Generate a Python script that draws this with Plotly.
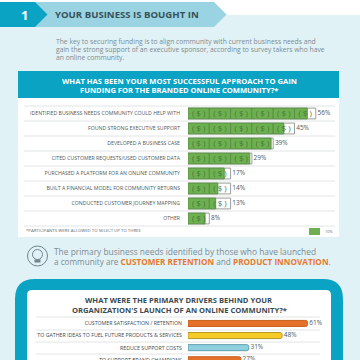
import math
import plotly.graph_objects as go

funding_labels = ["IDENTIFIED BUSINESS NEEDS COMMUNITY COULD HELP WITH", "FOUND STRONG EXECUTIVE SUPPORT",
                  "DEVELOPED A BUSINESS CASE", "CITED CUSTOMER REQUESTS/USED CUSTOMER DATA",
                  "PURCHASED A PLATFORM FOR AN ONLINE COMMUNITY", "BUILT A FINANCIAL MODEL FOR COMMUNITY RETURNS",
                  "CONDUCTED CUSTOMER JOURNEY MAPPING", "OTHER"]
funding_values = [56, 45, 39, 29, 17, 14, 13, 8]
bill_size = 10

driver_labels = ["CUSTOMER SATISFACTION / RETENTION", "TO GATHER IDEAS TO FUEL FUTURE PRODUCTS & SERVICES",
                 "REDUCE SUPPORT COSTS", "TO SUPPORT BRAND CHAMPIONS"]
driver_values = [61, 48, 31, 27]
driver_colors = ["#E5702A", "#F6CB25", "#8FD0DF", "#E5702A"]
driver_lines = ["#C9601F", "#B79A2A", "#5E9FB0", "#C9601F"]

FONT = "Open Sans"
BG = "#E1F2F7"
TEAL = "#0AA3C4"
W = H = 360


def px(x):
    return x / W


def py(y):
    return 1 - y / H


def poly(points, fill, line=None):
    d = "M" + " L".join(f"{px(x):.5f},{py(y):.5f}" for x, y in points) + " Z"
    return dict(type="path", xref="paper", yref="paper", path=d, fillcolor=fill,
                line=dict(width=0 if line is None else 1, color=line or fill), layer="below")


def rect(x0, y0, x1, y1, fill):
    return dict(type="rect", xref="paper", yref="paper", x0=px(x0), x1=px(x1), y0=py(y1), y1=py(y0),
                fillcolor=fill, line=dict(width=0), layer="below")


def rounded(x0, y0, x1, y1, r, fill):
    def P(x, y):
        return f"{px(x):.5f},{py(y):.5f}"
    d = (f"M{P(x0 + r, y0)} L{P(x1 - r, y0)} Q{P(x1, y0)} {P(x1, y0 + r)} L{P(x1, y1 - r)} "
         f"Q{P(x1, y1)} {P(x1 - r, y1)} L{P(x0 + r, y1)} Q{P(x0, y1)} {P(x0, y1 - r)} "
         f"L{P(x0, y0 + r)} Q{P(x0, y0)} {P(x0 + r, y0)} Z")
    return dict(type="path", xref="paper", yref="paper", path=d, fillcolor=fill, line=dict(width=0), layer="below")


def hline(x0, x1, y, color="#E2E4E4", width=1):
    return dict(type="line", xref="paper", yref="paper", x0=px(x0), x1=px(x1), y0=py(y), y1=py(y),
                line=dict(color=color, width=width), layer="below")


def note(x, y, text, size, color, anchor="left", bold=False):
    return dict(x=px(x), y=py(y), xref="paper", yref="paper", text=f"<b>{text}</b>" if bold else text,
                showarrow=False, xanchor=anchor, yanchor="middle", font=dict(family=FONT, size=size, color=color),
                borderpad=0, borderwidth=0)


shapes = [
    rect(0, 15, 360, 360, BG),
    rect(18, 71, 339, 98, TEAL),
    rect(18, 98, 339, 237, "#FFFFFF"),
    poly([(0, 2), (214, 2), (226.5, 14.5), (214, 27), (0, 27)], "#9AD4E2"),
    poly([(0, 2), (35, 2), (47.5, 14.5), (35, 27), (0, 27)], TEAL),
    rounded(15, 279, 343, 420, 20, TEAL),
    rounded(27, 290, 331, 420, 5, "#FFFFFF"),
    dict(type="circle", xref="paper", yref="paper", x0=px(27.5), x1=px(47.5), y0=py(266), y1=py(246),
         line=dict(color="#6F858C", width=1), fillcolor=BG, layer="below"),
    dict(type="circle", xref="paper", yref="paper", x0=px(32.5), x1=px(42.5), y0=py(259.5), y1=py(249.5),
         line=dict(color="#6F858C", width=1), fillcolor=BG, layer="below"),
    rect(34.5, 259.5, 40.5, 262.5, "#6F858C"),
    rect(309, 228, 320, 235, "#6FAE53"),
]
for y in [106, 121, 136, 151, 166, 181, 196, 211, 226]:
    shapes.append(hline(24, 335, y))
for y in [317, 330, 342, 354]:
    shapes.append(hline(36, 320, y))

GRAY = "#7B8B91"
ORANGE = "#E8792F"
annotations = [
    note(24.5, 15, "1", 13, "#FFFFFF", "center", True),
    note(55, 15, "YOUR BUSINESS IS BOUGHT IN", 9.6, "#37505A", bold=True),
    note(56, 41.5, "The key to securing funding is to align community with current business needs and", 6.75, GRAY),
    note(56, 49.5, "gain the strong support of an executive sponsor, according to survey takers who have", 6.75, GRAY),
    note(56, 57.5, "an online community.", 6.75, GRAY),
    note(179, 80.5, "WHAT HAS BEEN YOUR MOST SUCCESSFUL APPROACH TO GAIN", 7.6, "#FFFFFF", "center", True),
    note(179, 90, "FUNDING FOR THE BRANDED ONLINE COMMUNITY?*", 7.6, "#FFFFFF", "center", True),
    note(26, 230.5, "*PARTICIPANTS WERE ALLOWED TO SELECT UP TO THREE", 4.3, "#5A6A70"),
    note(322, 231.5, "= 10%", 3.8, "#5A6A70"),
    note(54, 252, "The primary business needs identified by those who have launched", 8.4, GRAY),
    note(54, 261.5, f"a community are <b><span style='color:{ORANGE}'>CUSTOMER RETENTION</span></b> and "
                    f"<b><span style='color:{ORANGE}'>PRODUCT INNOVATION</span></b>.", 8.2, GRAY),
    note(179, 300, "WHAT WERE THE PRIMARY DRIVERS BEHIND YOUR", 7.6, "#3B4A50", "center", True),
    note(179, 310, "ORGANIZATION'S LAUNCH OF AN ONLINE COMMUNITY?*", 7.6, "#3B4A50", "center", True),
]

fig = go.Figure()

# one tile per started bill, outline first, then green up to the value
tile_y, tile_base, green_y, green_base, green_x, mark_x, mark_y = [], [], [], [], [], [], []
for label, value in zip(funding_labels, funding_values):
    n = math.ceil(value / bill_size)
    for i in range(n):
        tile_y.append(label)
        tile_base.append(i * bill_size)
        green_y.append(label)
        green_base.append(i * bill_size)
        green_x.append(min(bill_size, value - i * bill_size))
        mark_x.append((i + 0.5) * bill_size)
        mark_y.append(label)

fig.add_trace(go.Bar(y=tile_y, x=[bill_size] * len(tile_y), base=tile_base, orientation="h", width=0.72,
                     marker=dict(color="#FFFFFF", line=dict(color="#9A9E9A", width=1)),
                     xaxis="x", yaxis="y", hoverinfo="skip"))
fig.add_trace(go.Bar(y=green_y, x=green_x, base=green_base, orientation="h", width=0.72,
                     marker=dict(color="#6DB04F", line=dict(color="#5C8F48", width=1)),
                     xaxis="x", yaxis="y", hoverinfo="skip"))
fig.add_trace(go.Scatter(x=mark_x, y=mark_y, mode="text", text=["( $ )"] * len(mark_x), textposition="middle center",
                         textfont=dict(family=FONT, size=8, color="#47763B"), xaxis="x", yaxis="y", hoverinfo="skip"))
fig.add_trace(go.Scatter(x=[math.ceil(v / bill_size) * bill_size for v in funding_values], y=funding_labels,
                         mode="text", text=[f"\u00a0{v}%" for v in funding_values], textposition="middle right",
                         textfont=dict(family=FONT, size=6.5, color="#4A5A60"), xaxis="x", yaxis="y", hoverinfo="skip"))

fig.add_trace(go.Bar(y=driver_labels, x=driver_values, orientation="h", width=0.5,
                     marker=dict(color=driver_colors, line=dict(color=driver_lines, width=1), cornerradius=2),
                     xaxis="x2", yaxis="y2", hoverinfo="skip"))
fig.add_trace(go.Scatter(x=driver_values, y=driver_labels, mode="text", text=[f"\u00a0{v}%" for v in driver_values],
                         textposition="middle right", textfont=dict(family=FONT, size=6.5, color="#4A5A60"),
                         xaxis="x2", yaxis="y2", hoverinfo="skip"))

axis_common = dict(showgrid=False, zeroline=False, showline=False, fixedrange=True)
fig.update_layout(
    width=W, height=H, margin=dict(l=0, r=0, t=0, b=0), autosize=False,
    paper_bgcolor="#FFFFFF", plot_bgcolor="rgba(0,0,0,0)", showlegend=False, barmode="overlay",
    shapes=shapes, annotations=annotations, font=dict(family=FONT),
    xaxis=dict(domain=[188 / W, 1], range=[0, 172 / 2.13], visible=False, anchor="y", **axis_common),
    yaxis=dict(domain=[py(226), py(106)], type="category", categoryorder="array", categoryarray=funding_labels,
               range=[7.5, -0.5], anchor="x", dtick=1, tick0=0, ticks="", ticklabelstandoff=7,
               tickfont=dict(family=FONT, size=5.2, color="#4A5A60"), automargin=False, **axis_common),
    xaxis2=dict(domain=[188 / W, 1], range=[0, 172 / 1.96], visible=False, anchor="y2", **axis_common),
    yaxis2=dict(domain=[0, py(317.4)], type="category", categoryorder="array", categoryarray=driver_labels,
                range=[3.02, -0.5], anchor="x2", dtick=1, tick0=0, ticks="", ticklabelstandoff=5,
                tickfont=dict(family=FONT, size=5.25, color="#3B4A50"), automargin=False, **axis_common),
)

fig.write_html("out.html", config={"displayModeBar": False},
               post_script="document.body.style.margin='0';document.body.style.overflow='hidden';")
